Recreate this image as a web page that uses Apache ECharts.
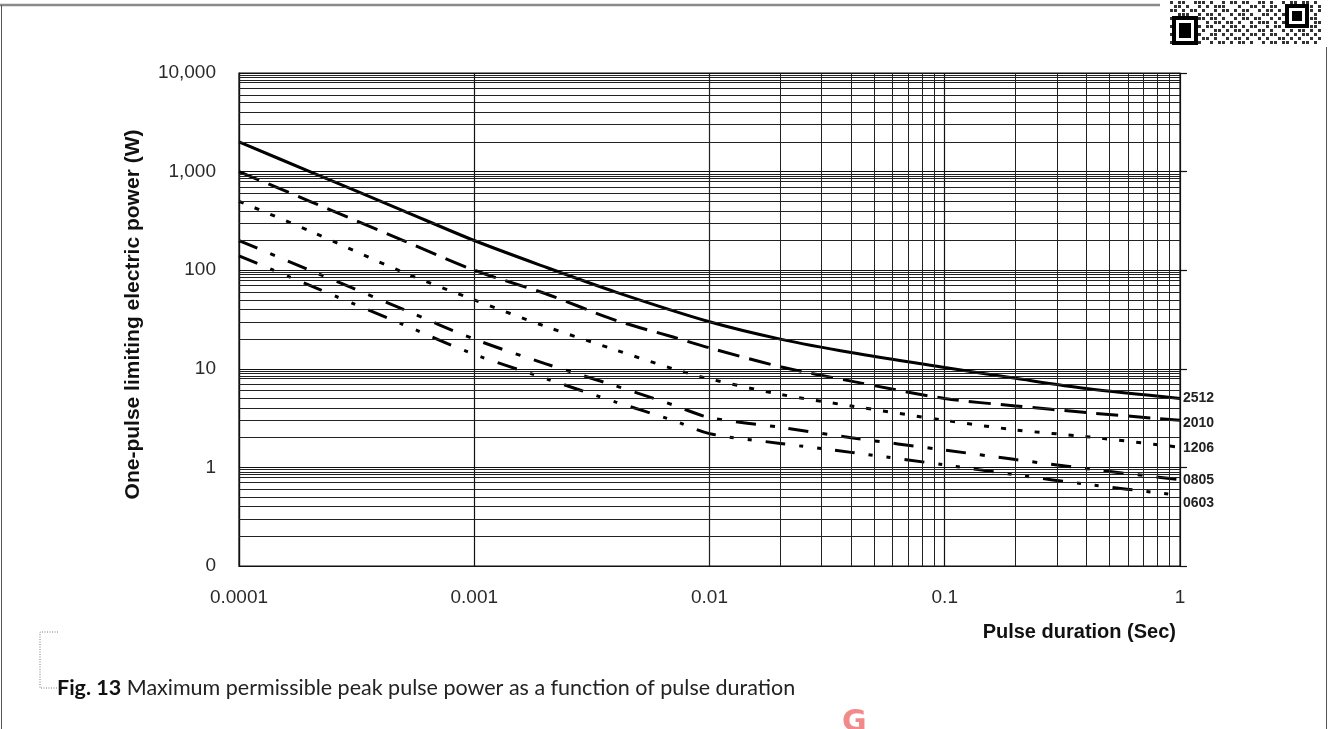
<!DOCTYPE html>
<html>
<head>
<meta charset="utf-8">
<script src="https://cdn.jsdelivr.net/npm/echarts@6/dist/echarts.min.js"></script>
<style>
  html, body { margin: 0; padding: 0; background: #fff; }
  #main { width: 1335px; height: 729px; }
</style>
</head>
<body>
<div id="main"></div>
<script>
// pulse duration (s) / peak pulse power (W)
var t2512 = [0.0001, 0.0002, 0.0005, 0.001, 0.002, 0.004, 0.01, 0.02, 0.04, 0.1, 0.2, 0.4, 1];
var p2512 = [2000, 1000, 400, 200, 108, 60, 30, 20, 14.6, 10.3, 8, 6.3, 5];

var t2010 = [0.0001, 0.0002, 0.0005, 0.001, 0.002, 0.004, 0.007, 0.01, 0.02, 0.04, 0.1, 0.2, 0.4, 1];
var p2010 = [1000, 500, 200, 100, 58, 31, 21, 16.3, 10.5, 7.5, 5, 4.2, 3.6, 3];

var t1206 = [0.0001, 0.0002, 0.0005, 0.001, 0.002, 0.004, 0.007, 0.01, 0.02, 0.04, 0.1, 0.2, 0.4, 1];
var p1206 = [500, 250, 95, 50, 27, 15.5, 10, 7.9, 5.5, 4.2, 3.0, 2.4, 2.05, 1.6];

var t0805 = [0.0001, 0.0002, 0.0005, 0.001, 0.002, 0.004, 0.007, 0.01, 0.02, 0.04, 0.1, 0.2, 0.4, 1];
var p0805 = [200, 100, 40, 20, 11.3, 6.7, 4.3, 3.2, 2.55, 2.0, 1.5, 1.2, 0.97, 0.75];

var t0603 = [0.0001, 0.0002, 0.0005, 0.001, 0.002, 0.004, 0.007, 0.01, 0.02, 0.04, 0.1, 0.2, 0.4, 1];
var p0603 = [140, 70, 28, 14, 8, 4.6, 3.0, 2.2, 1.75, 1.42, 1.06, 0.84, 0.675, 0.52];

var sizeNames = ['2512', '2010', '1206', '0805', '0603'];
var xTickLabels = ['0.0001', '0.001', '0.01', '0.1', '1'];
var yTickLabels = ['0', '1', '10', '100', '1,000', '10,000'];

// minor grid multipliers inside each decade
var xMinorSteps = [2, 3, 4, 5, 6, 7, 8, 9];
var yMinorSteps = [2, 3, 4, 5, 6, 7, 8, 8.5, 9, 9.5];

function pairs(ts, vals) {
    return ts.map(function (t, i) { return [t, vals[i]]; });
}

var gridLines = [];
[0.0001, 0.001, 0.01, 0.1].forEach(function (d) {
    xMinorSteps.forEach(function (m) { gridLines.push({ xAxis: +(d * m).toPrecision(3) }); });
});
[0.1, 1, 10, 100, 1000].forEach(function (d) {
    yMinorSteps.forEach(function (m) { gridLines.push({ yAxis: +(d * m).toPrecision(3) }); });
});

var dashes = {
    '2512': 'solid',
    '2010': [22, 10],
    '1206': [5, 12],
    '0805': [20, 14, 5, 14],
    '0603': [20, 14, 4, 14, 4, 14]
};
var labelShift = { '2512': 0, '2010': 3, '1206': 1, '0805': 0, '0603': 8 };
var curveData = {
    '2512': pairs(t2512, p2512),
    '2010': pairs(t2010, p2010),
    '1206': pairs(t1206, p1206),
    '0805': pairs(t0805, p0805),
    '0603': pairs(t0603, p0603)
};

var labelFont = '"Liberation Sans", Arial, sans-serif';

var series = [{
    // carries the minor grid lines
    type: 'line',
    data: [[0.0001, 0.1]],
    showSymbol: false,
    silent: true,
    lineStyle: { width: 0 },
    z: 1,
    markLine: {
        silent: true,
        symbol: ['none', 'none'],
        label: { show: false },
        lineStyle: { type: 'solid', color: '#222', width: 1 },
        emphasis: { disabled: true },
        data: gridLines
    }
}];

sizeNames.forEach(function (name) {
    series.push({
        name: name,
        type: 'line',
        data: curveData[name],
        showSymbol: false,
        smooth: 0.3,
        z: 3,
        lineStyle: { color: '#000', width: 3, type: dashes[name] },
        endLabel: {
            show: true,
            formatter: name,
            fontFamily: labelFont,
            fontWeight: 'bold',
            fontSize: 14,
            color: '#222',
            distance: 3,
            offset: [0, labelShift[name]]
        }
    });
});

// QR code texture in the top right corner
var qrRows = [
    '10110011101001011011001101001011011010',
    '01101001010111000100110101100110101101',
    '11010110100101101011001011010011100101',
    '00111001011010010110100110101101011010',
    '10100101101101001011011001010110010110',
    '01011010010110110100101110101001101011',
    '11001101011001011010110010110110100110',
    '01100110100110101101001101001010110101',
    '10110101001101010010110101100101011010',
    '01001010110100101101001010011010100101',
    '10101101001011010110100101101101011010'
];
var qrCells = [];
qrRows.forEach(function (row, r) {
    for (var c = 0; c < row.length; c++) {
        if (row[c] === '1') {
            qrCells.push({ type: 'rect', shape: { x: 1170 + c * 4, y: 1 + r * 4, width: 3, height: 3 }, style: { fill: '#333' } });
        }
    }
});

var option = {
    animation: false,
    backgroundColor: '#fff',
    grid: {
        left: 239, right: 155, top: 73, bottom: 163,
        show: true, borderColor: '#111', borderWidth: 1.2
    },
    xAxis: {
        type: 'log', logBase: 10, min: 0.0001, max: 1,
        axisLine: { lineStyle: { color: '#111', width: 1.2 } },
        axisTick: { show: false },
        splitLine: { show: true, lineStyle: { color: '#111', width: 1.2 } },
        axisLabel: {
            margin: 22, fontSize: 19, color: '#2a2a2a', fontFamily: labelFont,
            formatter: function (v) { return xTickLabels[Math.round(Math.log10(v)) + 4]; }
        },
        name: 'Pulse duration (Sec)',
        nameLocation: 'end',
        nameGap: -4,
        nameTextStyle: {
            fontFamily: labelFont, fontWeight: 'bold', fontSize: 20, color: '#111',
            align: 'right', verticalAlign: 'top', padding: [56, 0, 0, 0]
        }
    },
    yAxis: [{
        type: 'log', logBase: 10, min: 0.1, max: 10000,
        axisLine: { lineStyle: { color: '#111', width: 1.2 } },
        axisTick: { show: false },
        splitLine: { show: true, lineStyle: { color: '#111', width: 1.2 } },
        axisLabel: {
            margin: 23, fontSize: 19, color: '#2a2a2a', fontFamily: labelFont,
            formatter: function (v) { return yTickLabels[Math.round(Math.log10(v)) + 1]; }
        },
        name: 'One-pulse limiting electric power (W)',
        nameLocation: 'middle',
        nameGap: 95,
        nameTextStyle: { fontFamily: labelFont, fontWeight: 'bold', fontSize: 21, color: '#111', padding: [0, 0, 0, 10] }
    }, {
        type: 'log', logBase: 10, min: 0.1, max: 10000,
        position: 'right',
        axisLine: { show: false },
        axisTick: { show: true, length: 7, lineStyle: { color: '#111', width: 1.2 } },
        axisLabel: { show: false },
        splitLine: { show: false }
    }],
    graphic: [
        { type: 'line', shape: { x1: 0, y1: 5, x2: 1160, y2: 5 }, style: { stroke: '#8a8a8a', lineWidth: 2.5 } },
        { type: 'line', shape: { x1: 1.5, y1: 5, x2: 1.5, y2: 729 }, style: { stroke: '#555', lineWidth: 1 } },
        { type: 'line', shape: { x1: 1326.5, y1: 47, x2: 1326.5, y2: 729 }, style: { stroke: '#555', lineWidth: 1 } }
    ].concat(qrCells).concat([
        { type: 'rect', shape: { x: 1172, y: 16, width: 26, height: 29 }, style: { fill: '#000' } },
        { type: 'rect', shape: { x: 1176, y: 20, width: 18, height: 21 }, style: { fill: '#fff' } },
        { type: 'rect', shape: { x: 1179, y: 23, width: 12, height: 15 }, style: { fill: '#000' } },
        { type: 'rect', shape: { x: 1285, y: 4, width: 24, height: 24 }, style: { fill: '#000' } },
        { type: 'rect', shape: { x: 1289, y: 8, width: 16, height: 16 }, style: { fill: '#fff' } },
        { type: 'rect', shape: { x: 1292, y: 11, width: 10, height: 10 }, style: { fill: '#000' } },
        // dotted bracket before caption
        { type: 'polyline', shape: { points: [[58, 632], [40, 632], [40, 688], [58, 688]] },
          style: { stroke: '#777', lineWidth: 1, lineDash: [1, 1.5], fill: null } },
        { type: 'text', left: 57, top: 677,
          style: {
              text: '{b|Fig. 13} Maximum permissible peak pulse power as a function of pulse duration',
              fill: '#222', font: '21.5px Lato, "Open Sans", sans-serif',
              rich: { b: { fontWeight: 'bold', fontSize: 21.5, fontFamily: 'Lato, sans-serif', fill: '#111' } }
          } },
        { type: 'text', left: 842, top: 708,
          style: { text: 'G', fill: '#f28a8a', font: 'bold 30px "DejaVu Sans", sans-serif' } }
    ]),
    series: series
};

var myChart = echarts.init(document.getElementById('main'));
myChart.setOption(option);
</script>
</body>
</html>
